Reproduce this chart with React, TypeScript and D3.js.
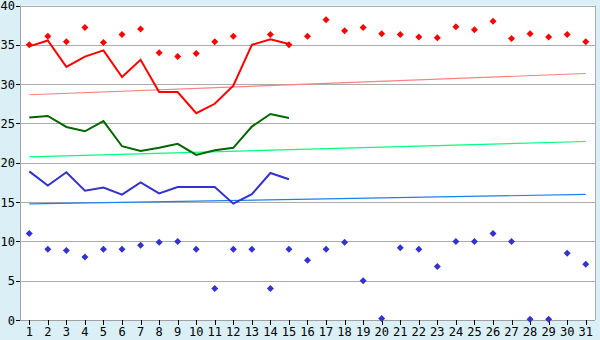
import React from "react";
import * as d3 from "d3";

const days = Array.from({ length: 31 }, (_, i) => String(i + 1));
const yTicks = [0, 5, 10, 15, 20, 25, 30, 35, 40];

const redLine = [34.8, 35.55, 32.2, 33.5, 34.3, 30.9, 33.1, 29.0, 29.0, 26.3, 27.5, 29.8, 35.0, 35.7, 35.1];
const greenLine = [25.75, 25.95, 24.55, 24.0, 25.3, 22.1, 21.5, 21.9, 22.4, 21.0, 21.6, 21.9, 24.6, 26.2, 25.7];
const blueLine = [18.9, 17.1, 18.8, 16.45, 16.85, 15.95, 17.5, 16.1, 16.9, 16.9, 16.9, 14.8, 16.0, 18.7, 17.9];

const redMarks: (number | null)[] = [35.0, 36.1, 35.4, 37.2, 35.3, 36.3, 37.0, 34.0, 33.5, 33.9, 35.4, 36.1, null, 36.3, 35.0, 36.1, 38.2, 36.8, 37.2, 36.4, 36.3, 36.0, 35.9, 37.3, 36.9, 38.0, 35.8, 36.4, 36.0, 36.3, 35.4];
const blueMarks: (number | null)[] = [11.0, 9.0, 8.85, 8.0, 9.0, 9.0, 9.5, 9.9, 10.0, 9.0, 4.0, 9.0, 9.0, 4.0, 9.0, 7.6, 9.0, 9.9, 5.0, 0.2, 9.2, 9.0, 6.8, 10.0, 10.0, 11.0, 10.0, 0.1, 0.1, 8.5, 7.1];

const redTrend = [28.65, 31.35];
const greenTrend = [20.75, 22.7];
const blueTrend = [14.77, 15.97];

const W = 600, H = 340;
const left = 20, right = 595, top = 5.5, bottom = 320;

export default function App() {
  const x = d3.scaleBand<string>().domain(days).range([left, right]).padding(0);
  const y = d3.scaleLinear().domain([0, 40]).range([bottom, top]);
  const cx = (i: number) => (x(days[i]) as number) + x.bandwidth() / 2;

  const line = d3
    .line<number>()
    .x((_, i) => cx(i))
    .y((d) => y(d));

  const trendPath = (t: number[]) =>
    d3.line<number>().x((_, i) => cx(i === 0 ? 0 : days.length - 1)).y((d) => y(d))(t) as string;

  const diamond = (px: number, py: number) =>
    `M${px},${py - 3.5}L${px + 3.5},${py}L${px},${py + 3.5}L${px - 3.5},${py}Z`;

  const font = "'DejaVu Sans Mono', monospace";

  return (
    <svg width={W} height={H} style={{ position: "absolute", left: 0, top: 0 }}>
      <rect x={0} y={0} width={W} height={H} fill="#DAEFF6" />
      <rect x={left} y={top} width={right - left} height={bottom - top} fill="#ffffff" />
      {yTicks.map((t) => (
        <line key={"g" + t} x1={left} x2={right} y1={Math.round(y(t)) + 0.5} y2={Math.round(y(t)) + 0.5} stroke="#ABABAB" strokeWidth={1} />
      ))}
      <line x1={right + 0.5} x2={right + 0.5} y1={top} y2={bottom} stroke="#ABABAB" />
      <line x1={left + 0.5} x2={left + 0.5} y1={top} y2={bottom + 0.5} stroke="#A0A0A0" />
      <line x1={left} x2={right} y1={bottom + 0.5} y2={bottom + 0.5} stroke="#A0A0A0" />
      {yTicks.map((t) => (
        <g key={"yt" + t}>
          <line x1={16} x2={20} y1={Math.round(y(t)) + 0.5} y2={Math.round(y(t)) + 0.5} stroke="#000" />
          <text x={15} y={y(t) + 4.5} textAnchor="end" fontFamily={font} fontSize={12} fill="#000">
            {t}
          </text>
        </g>
      ))}
      {days.map((d, i) => (
        <g key={"xt" + d}>
          <line x1={Math.round(cx(i)) + 0.5} x2={Math.round(cx(i)) + 0.5} y1={320} y2={325} stroke="#000" />
          <text x={cx(i)} y={336} textAnchor="middle" fontFamily={font} fontSize={12} fill="#000">
            {d}
          </text>
        </g>
      ))}

      <path d={trendPath(redTrend)} fill="none" stroke="#FF8080" strokeWidth={1.2} />
      <path d={trendPath(greenTrend)} fill="none" stroke="#00FF80" strokeWidth={1.2} />
      <path d={trendPath(blueTrend)} fill="none" stroke="#1A80F0" strokeWidth={1.2} />

      <path d={line(redLine) as string} fill="none" stroke="#FF0000" strokeWidth={2} />
      <path d={line(greenLine) as string} fill="none" stroke="#006600" strokeWidth={2} />
      <path d={line(blueLine) as string} fill="none" stroke="#3333CC" strokeWidth={2} />

      {redMarks.map((v, i) =>
        v == null ? null : <path key={"rm" + i} d={diamond(cx(i), y(v))} fill="#FF0000" />
      )}
      {blueMarks.map((v, i) =>
        v == null ? null : <path key={"bm" + i} d={diamond(cx(i), y(v))} fill="#3333CC" />
      )}
    </svg>
  );
}
